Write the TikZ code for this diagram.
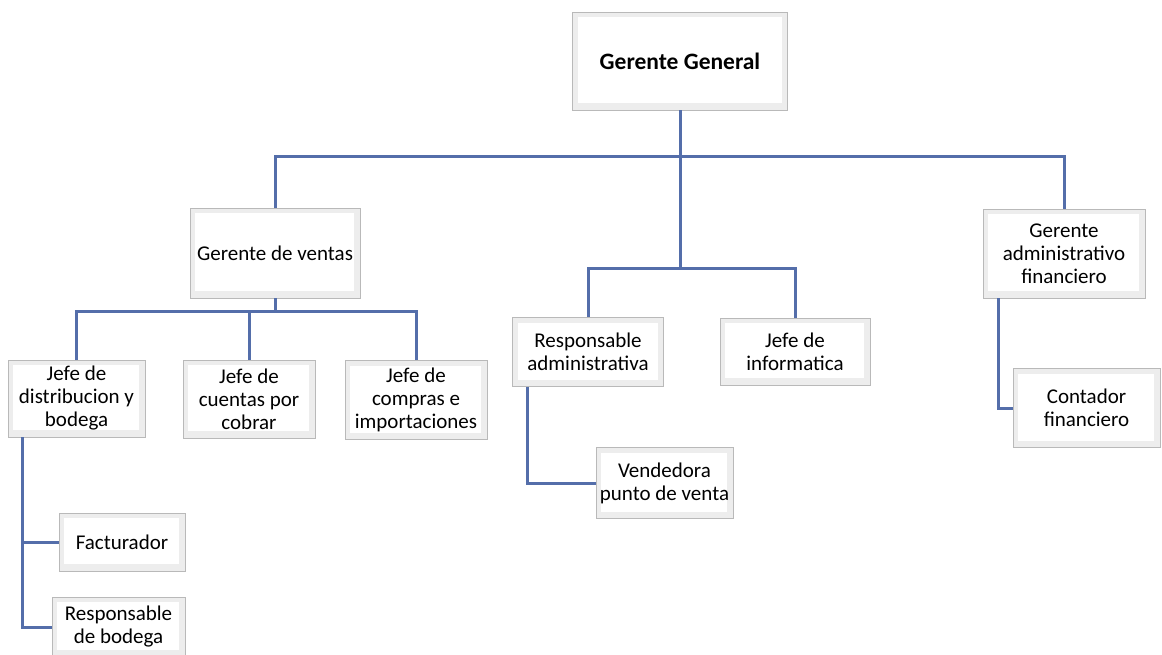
\documentclass[tikz,border=0pt]{standalone}
\usepackage{fontspec}
\setmainfont{Carlito}
\definecolor{linkblue}{RGB}{84,110,170}
\begin{document}
\begin{tikzpicture}[x=1pt,y=-1pt,
  box/.style={rectangle, draw=gray!55, line width=0.9pt, align=center, inner sep=2pt,
    font=\fontsize{21}{23}\selectfont,
    path picture={
      \fill[gray!14] (path picture bounding box.south west) rectangle (path picture bounding box.north east);
      \fill[white] ([shift={(5pt,-5pt)}]path picture bounding box.north west) rectangle ([shift={(-6pt,7pt)}]path picture bounding box.south east);
    }},
  conn/.style={draw=linkblue, line width=3pt}]
\useasboundingbox (0,0) rectangle (1162,654);

\node[box, minimum width=215pt, minimum height=98pt, font=\fontsize{23.5}{26}\selectfont\bfseries] (GG) at (680,61) {Gerente General};
\node[box, minimum width=170pt, minimum height=90pt] (GV) at (275,253) {Gerente de ventas};
\node[box, minimum width=162pt, minimum height=89pt] (GAF) at (1064,253.5) {Gerente\\administrativo\\financiero};
\node[box, minimum width=151pt, minimum height=69pt] (RA) at (588,352) {Responsable\\administrativa};
\node[box, minimum width=150pt, minimum height=67pt] (JI) at (795,351.5) {Jefe de\\informatica};
\node[box, minimum width=137pt, minimum height=77pt] (JD) at (76.5,398.5) {Jefe de\\distribucion y\\bodega};
\node[box, minimum width=132pt, minimum height=78pt] (JC) at (249,399) {Jefe de\\cuentas por\\cobrar};
\node[box, minimum width=142pt, minimum height=79pt] (JCI) at (416,400) {Jefe de\\compras e\\importaciones};
\node[box, minimum width=137pt, minimum height=71pt] (V) at (664.5,483) {Vendedora\\punto de venta};
\node[box, minimum width=147pt, minimum height=79pt] (C) at (1086.5,408) {Contador\\financiero};
\node[box, minimum width=126pt, minimum height=58pt] (F) at (122,542) {Facturador};
\node[box, minimum width=133pt, minimum height=60pt] (RB) at (118.5,627) {Responsable\\de bodega};

\draw[conn] (GG.south) -- ++(0,46) -| (GV.north);
\draw[conn] (GG.south) -- ++(0,46) -| (GAF.north);
\draw[conn] (GG.south) -- ++(0,158) -| (RA.north);
\draw[conn] (GG.south) -- ++(0,158) -| (JI.north);
\draw[conn] (GV.south) -- ++(0,13) -| (JD.north);
\draw[conn] (GV.south) -- ++(0,13) -| (JC.north);
\draw[conn] (GV.south) -- ++(0,13) -| (JCI.north);
\draw[conn] ([xshift=15pt]JD.south west) |- (F.west);
\draw[conn] ([xshift=15pt]JD.south west) |- (RB.west);
\draw[conn] ([xshift=15pt]RA.south west) |- (V.west);
\draw[conn] ([xshift=16pt]GAF.south west) |- (C.west);
\end{tikzpicture}
\end{document}
